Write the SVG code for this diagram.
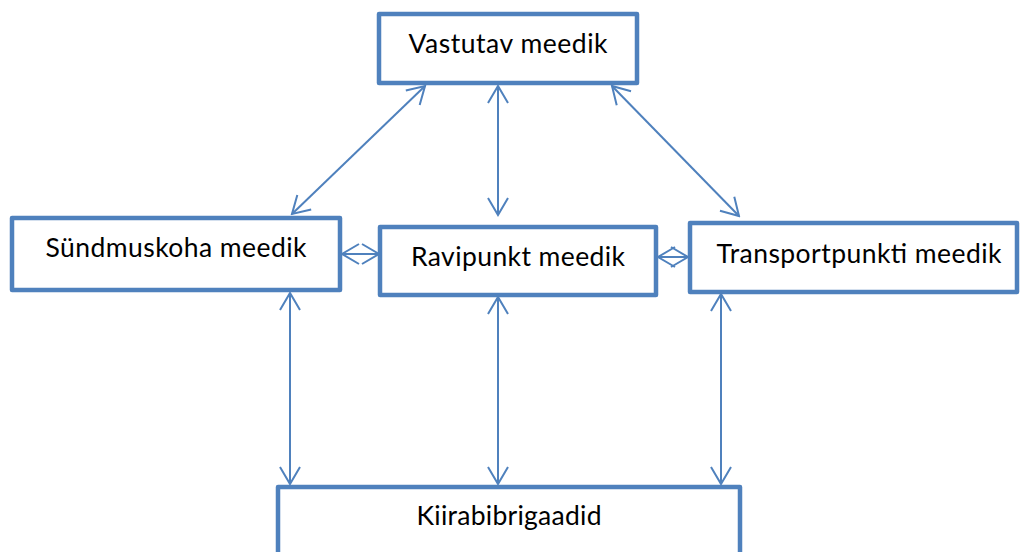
<svg xmlns="http://www.w3.org/2000/svg" width="1021" height="552" viewBox="0 0 1021 552">
  <defs>
    <style>
      .box { fill: #ffffff; stroke: #4f81bd; stroke-width: 4.5; stroke-linejoin: round; }
      .lbl { font-family: Lato, "Open Sans", "Liberation Sans", sans-serif; font-size: 26.5px; fill: #000000; text-anchor: middle; }
      .link { stroke: #4f81bd; stroke-width: 2; fill: none; marker-start: url(#head); marker-end: url(#head); }
    </style>
    <marker id="head" markerUnits="userSpaceOnUse" viewBox="-20 -12 22 24" refX="0" refY="0" markerWidth="22" markerHeight="24" orient="auto-start-reverse">
      <path d="M-17,-10 L0,0 L-17,10" fill="none" stroke="#4f81bd" stroke-width="2"/>
    </marker>
  </defs>

  <rect width="1021" height="552" fill="#ffffff"/>

  <!-- connectors -->
  <g id="connectors">
    <line class="link" x1="425" y1="86" x2="292" y2="214"/>
    <line class="link" x1="498" y1="86" x2="498" y2="215"/>
    <line class="link" x1="612" y1="86" x2="739" y2="216"/>
    <line class="link" x1="342" y1="254" x2="379" y2="254"/>
    <line class="link" x1="658" y1="257" x2="688" y2="257"/>
    <line class="link" x1="290" y1="293" x2="290" y2="484"/>
    <line class="link" x1="498" y1="297" x2="498" y2="484"/>
    <line class="link" x1="721" y1="294" x2="721" y2="484"/>
  </g>

  <g id="vastutav">
    <rect class="box" x="379" y="14" width="258" height="69"/>
    <text class="lbl" x="508" y="53" textLength="199">Vastutav meedik</text>
  </g>

  <g id="syndmuskoha">
    <rect class="box" x="12" y="218" width="328" height="72"/>
    <text class="lbl" x="176" y="257" textLength="261">Sündmuskoha meedik</text>
  </g>

  <g id="ravipunkt">
    <rect class="box" x="380" y="227" width="276" height="68"/>
    <text class="lbl" x="518" y="266" textLength="214">Ravipunkt meedik</text>
  </g>

  <g id="transportpunkti">
    <rect class="box" x="690" y="223" width="327" height="69"/>
    <text class="lbl" x="859" y="263" textLength="285">Transportpunkti meedik</text>
  </g>

  <g id="kiirabibrigaadid">
    <rect class="box" x="278" y="487" width="462" height="80"/>
    <text class="lbl" x="509" y="525" textLength="185">Kiirabibrigaadid</text>
  </g>
</svg>
